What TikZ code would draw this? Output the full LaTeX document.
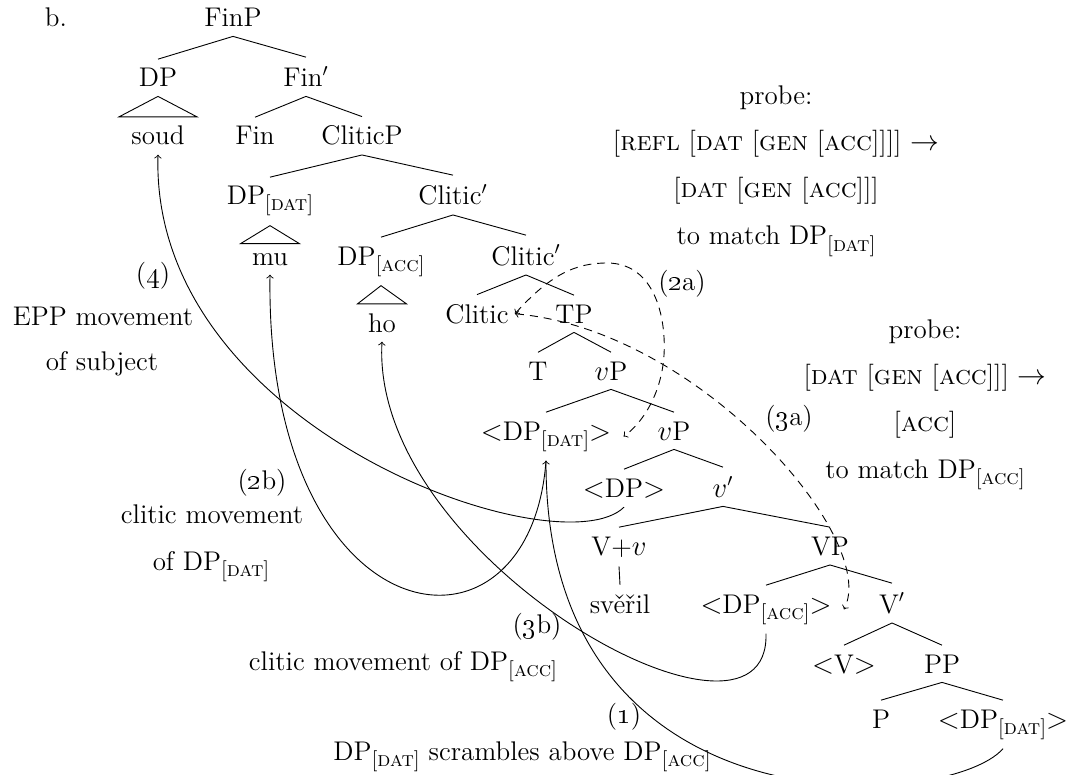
\documentclass[tikz,border=0pt]{standalone}
\newcommand\fsub[1]{\raisebox{-3pt}{\fontsize{10.5}{12}\selectfont[\textsc{#1}]}}
\newcommand\osn[1]{\oldstylenums{#1}}
\tikzset{
  tn/.style={anchor=base, inner xsep=3pt, inner ysep=4.5pt},
  lbl/.style={anchor=base, inner sep=0pt},
  br/.style={line width=0.45pt},
  mv/.style={->, line width=0.45pt},
  probe/.style={<->, line width=0.45pt, dash pattern=on 4pt off 3pt},
}
\begin{document}
\begin{tikzpicture}[x=0.5pt,y=-0.5pt, font=\fontsize{13.5}{16}\selectfont]
\useasboundingbox (0,0) rectangle (1070,775);
% tree nodes
\node[tn] (finp) at (233,27) {FinP};
\node[tn] (dp) at (158,87) {DP};
\node[tn] (finbar) at (306,87) {Fin$'$};
\node[tn] (soud) at (158,145) {soud};
\node[tn] (fin) at (255,145) {Fin};
\node[tn] (cliticp) at (362,145) {CliticP};
\node[tn] (dpdat) at (270,205) {DP\fsub{dat}};
\node[tn] (cbara) at (453,205) {Clitic$'$};
\node[tn] (mu) at (270,265) {mu};
\node[tn] (dpacc) at (381,265) {DP\fsub{acc}};
\node[tn] (cbarb) at (526,265) {Clitic$'$};
\node[tn] (ho) at (382,332) {ho};
\node[tn] (clitic) at (477,323) {Clitic};
\node[tn] (tp) at (574,323) {TP};
\node[tn] (t) at (538,380) {T};
\node[tn] (vpa) at (611,380) {$v$P};
\node[tn] (dpdatb) at (546,440) {$<$DP\fsub{dat}$>$};
\node[tn] (vpb) at (674,440) {$v$P};
\node[tn] (dptr) at (624,497) {$<$DP$>$};
\node[tn] (vbar) at (723,497) {$v'$};
\node[tn] (vv) at (619,555) {V+$v$};
\node[tn] (vp) at (830,555) {VP};
\node[tn] (sveril) at (620,613) {svěřil};
\node[tn] (dpaccb) at (766,613) {$<$DP\fsub{acc}$>$};
\node[tn] (vbarr) at (892,613) {V$'$};
\node[tn] (vtr) at (844,673) {$<$V$>$};
\node[tn] (pp) at (942,673) {PP};
\node[tn] (p) at (881,728) {P};
\node[tn] (dpdatc) at (1003,728) {$<$DP\fsub{dat}$>$};
% branches
\draw[br] (finp.south) -- (dp.north) (finp.south) -- (finbar.north);
\draw[br] (dp.south) -- ([xshift=-19.5pt]soud.north) -- ([xshift=19.5pt]soud.north) -- cycle;
\draw[br] (finbar.south) -- (fin.north) (finbar.south) -- (cliticp.north);
\draw[br] (cliticp.south) -- (dpdat.north) (cliticp.south) -- (cbara.north);
\draw[br] (dpdat.south) -- ([xshift=-14.75pt]mu.north) -- ([xshift=14.75pt]mu.north) -- cycle;
\draw[br] (cbara.south) -- (dpacc.north) (cbara.south) -- (cbarb.north);
\draw[br] (dpacc.south) -- ([xshift=-12.25pt]ho.north) -- ([xshift=12.25pt]ho.north) -- cycle;
\draw[br] (cbarb.south) -- (clitic.north) (cbarb.south) -- (tp.north);
\draw[br] (tp.south) -- (t.north) (tp.south) -- (vpa.north);
\draw[br] (vpa.south) -- (dpdatb.north) (vpa.south) -- (vpb.north);
\draw[br] (vpb.south) -- (dptr.north) (vpb.south) -- (vbar.north);
\draw[br] (vbar.south) -- (vv.north) (vbar.south) -- (vp.north);
\draw[br] (vv.south) -- (sveril.north);
\draw[br] (vp.south) -- (dpaccb.north) (vp.south) -- (vbarr.north);
\draw[br] (vbarr.south) -- (vtr.north) (vbarr.south) -- (pp.north);
\draw[br] (pp.south) -- (p.north) (pp.south) -- (dpdatc.north);
% labels
\node[lbl] (b) at (56,27) {b.};
\node[lbl] (pa1) at (776,105) {probe:};
\node[lbl] (pa2) at (776,151) {[\textsc{refl} [\textsc{dat} [\textsc{gen} [\textsc{acc}]]]] $\rightarrow$};
\node[lbl] (pa3) at (776,198) {[\textsc{dat} [\textsc{gen} [\textsc{acc}]]]};
\node[lbl] (pa4) at (776,245) {to match DP\fsub{dat}};
\node[lbl] (pb1) at (925,338) {probe:};
\node[lbl] (pb2) at (925,384) {[\textsc{dat} [\textsc{gen} [\textsc{acc}]]] $\rightarrow$};
\node[lbl] (pb3) at (925,431) {[\textsc{acc}]};
\node[lbl] (pb4) at (925,478) {to match DP\fsub{acc}};
\node[lbl] (l2a) at (682,290) {(\osn{2}a)};
\node[lbl] (l3a) at (789,425) {(\osn{3}a)};
\node[lbl] (l4) at (153,283) {(\osn{4})};
\node[lbl] (l4b) at (103,325) {EPP movement};
\node[lbl] (l4c) at (102,370) {of subject};
\node[lbl] (l2b) at (262,489) {(\osn{2}b)};
\node[lbl] (l2bb) at (212,523) {clitic movement};
\node[lbl] (l2bc) at (211,570) {of DP\fsub{dat}};
\node[lbl] (l3b) at (537,633) {(\osn{3}b)};
\node[lbl] (l3bb) at (403,670) {clitic movement of DP\fsub{acc}};
\node[lbl] (l1) at (624,723) {(\osn{1})};
\node[lbl] (l1b) at (522,760) {DP\fsub{dat} scrambles above DP\fsub{acc}};
% movement arrows
\draw[mv] (dptr.south) .. controls (560,570) and (150,430) .. (soud.south);
\draw[mv] (dpdatb.south) .. controls (530,680) and (265,640) .. (mu.south);
\draw[mv] (dpaccb.south) .. controls (770,780) and (370,560) .. (ho.south);
\draw[mv] (dpdatc.south) .. controls (950,810) and (545,840) .. (dpdatb.south);
% probing
\coordinate (ta) at (607,263);
\coordinate (tb) at (663,365);
\draw[probe] (clitic.east) .. controls (550,275) and (575,263) .. (ta)
  .. controls (660,263) and (668,330) .. (tb)
  .. controls (658,400) and (640,425) .. ([xshift=3pt]dpdatb.east);
\draw[probe] (clitic.east) .. controls (700,330) and (880,540) .. ([xshift=3pt]dpaccb.east);
\end{tikzpicture}
\end{document}
